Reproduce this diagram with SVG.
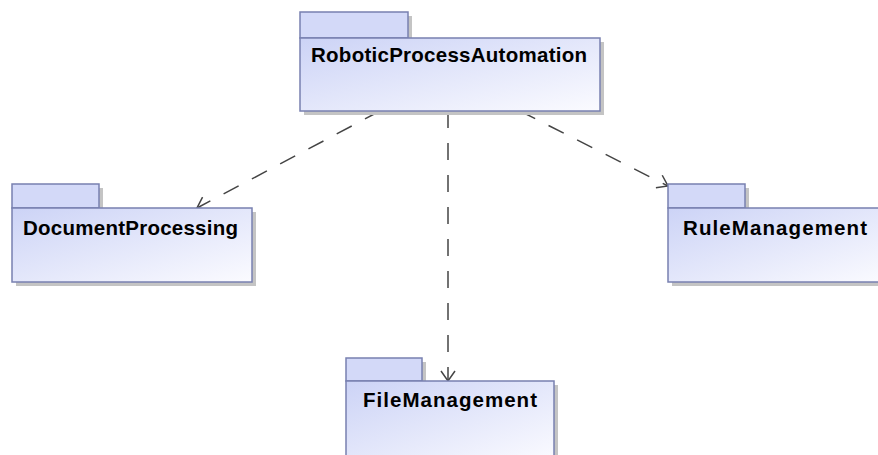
<svg xmlns="http://www.w3.org/2000/svg" width="878" height="455" viewBox="0 0 878 455">
  <defs>
    <linearGradient id="pkgFill" x1="0" y1="0" x2="1" y2="1">
      <stop offset="0" stop-color="#ccd3f6"/>
      <stop offset="1" stop-color="#fbfbff"/>
    </linearGradient>
    <marker id="openArrow" markerWidth="14" markerHeight="16" refX="11" refY="8" orient="auto" markerUnits="userSpaceOnUse">
      <path d="M1,1 L11,8 L1,15" fill="none" stroke="#444" stroke-width="1.5"/>
    </marker>
    <style>
      .shadow { fill: #c4c4c4; }
      .tab { fill: #d3d9f8; stroke: #7880b0; stroke-width: 1.5; }
      .body { fill: url(#pkgFill); stroke: #7880b0; stroke-width: 1.5; }
      .label { font-family: "Liberation Sans", Arial, sans-serif; font-weight: bold; font-size: 20.5px; fill: #000; }
      .dep { fill: none; stroke: #444; stroke-width: 1.5; stroke-dasharray: 17 15; }
    </style>
  </defs>
  <rect width="878" height="455" fill="#fff"/>

  <g id="connectors">
    <line class="dep" x1="380" y1="111" x2="197" y2="208" marker-end="url(#openArrow)"/>
    <line class="dep" x1="448" y1="111" x2="448" y2="381" marker-end="url(#openArrow)"/>
    <line class="dep" x1="520" y1="111" x2="668" y2="186" marker-end="url(#openArrow)"/>
  </g>

  <g id="RoboticProcessAutomation">
    <rect class="shadow" x="304" y="16" width="108" height="26"/>
    <rect class="shadow" x="304" y="42" width="300" height="73"/>
    <rect class="tab" x="300" y="12" width="108" height="26"/>
    <rect class="body" x="300" y="38" width="300" height="73"/>
    <text class="label" x="311" y="62" textLength="276" lengthAdjust="spacing">RoboticProcessAutomation</text>
  </g>

  <g id="DocumentProcessing">
    <rect class="shadow" x="16" y="188" width="87" height="24"/>
    <rect class="shadow" x="16" y="212" width="240" height="74"/>
    <rect class="tab" x="12" y="184" width="87" height="24"/>
    <rect class="body" x="12" y="208" width="240" height="74"/>
    <text class="label" x="23" y="235" textLength="215" lengthAdjust="spacing">DocumentProcessing</text>
  </g>

  <g id="RuleManagement">
    <rect class="shadow" x="672" y="188" width="77" height="24"/>
    <rect class="shadow" x="672" y="212" width="220" height="74"/>
    <rect class="tab" x="668" y="184" width="77" height="24"/>
    <rect class="body" x="668" y="208" width="220" height="74"/>
    <text class="label" x="683" y="235" textLength="184" lengthAdjust="spacing">RuleManagement</text>
  </g>

  <g id="FileManagement">
    <rect class="shadow" x="350" y="362" width="76" height="23"/>
    <rect class="shadow" x="350" y="385" width="208" height="80"/>
    <rect class="tab" x="346" y="358" width="76" height="23"/>
    <rect class="body" x="346" y="381" width="208" height="80"/>
    <text class="label" x="363" y="407" textLength="174" lengthAdjust="spacing">FileManagement</text>
  </g>
</svg>
